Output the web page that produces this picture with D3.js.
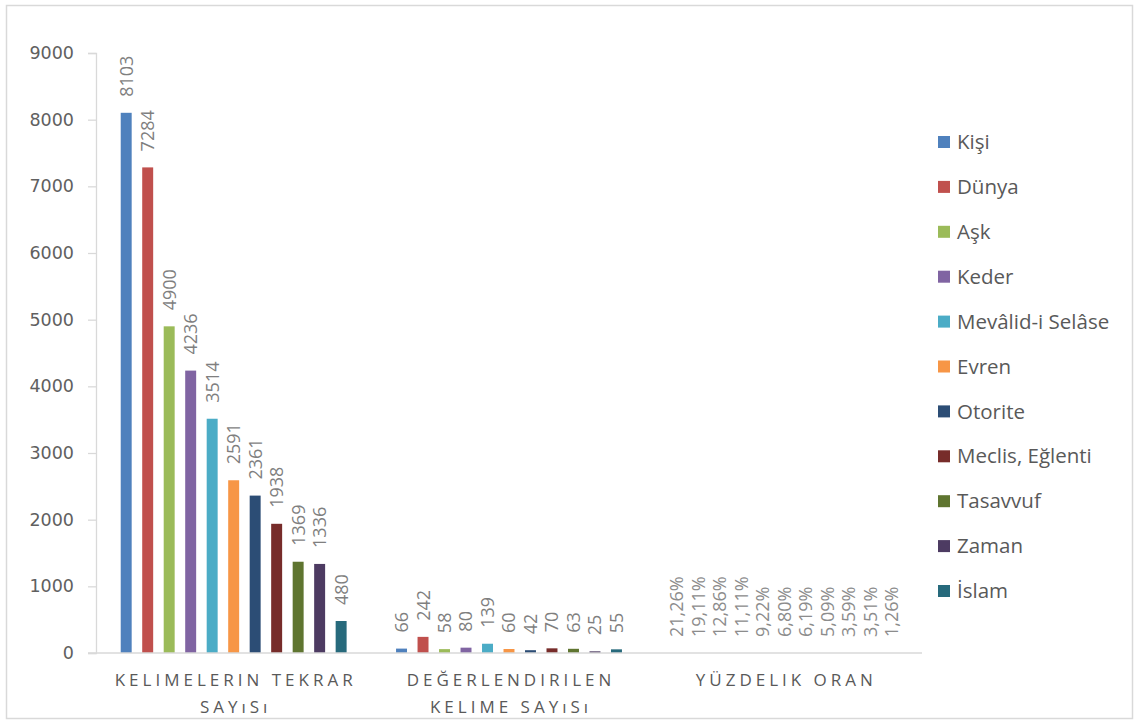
<!DOCTYPE html>
<html>
<head>
<meta charset="utf-8">
<script src="https://cdn.jsdelivr.net/npm/d3@7"></script>
<style>
  html, body { margin: 0; padding: 0; background: #fff; }
  svg { display: block; }
</style>
</head>
<body>
<svg id="chart" width="1136" height="726"></svg>
<script>
const groups = ["g1", "g2", "g3"];
const groupLabels = [
  ["KELIMELERIN TEKRAR", "SAYıSı"],
  ["DEĞERLENDIRILEN", "KELIME SAYıSı"],
  ["YÜZDELIK ORAN"]
];
const series = ["Kişi", "Dünya", "Aşk", "Keder", "Mevâlid-i Selâse", "Evren", "Otorite", "Meclis, Eğlenti", "Tasavvuf", "Zaman", "İslam"];
const colors = ["#4F81BD", "#C0504D", "#9BBB59", "#8064A2", "#4BACC6", "#F79646", "#2C4D75", "#772C2A", "#5F7530", "#4D3B62", "#276A7C"];
const tekrar = [8103, 7284, 4900, 4236, 3514, 2591, 2361, 1938, 1369, 1336, 480];
const degerlendirilen = [66, 242, 58, 80, 139, 60, 42, 70, 63, 25, 55];
const yuzdelik = [21.26, 19.11, 12.86, 11.11, 9.22, 6.80, 6.19, 5.09, 3.59, 3.51, 1.26];
const yTicks = [0, 1000, 2000, 3000, 4000, 5000, 6000, 7000, 8000, 9000];

const svg = d3.select("#chart");
const pLeft = 96, pRight = 922, pTop = 53, pBottom = 653;

// border
svg.append("rect").attr("x", 6.5).attr("y", 5.5).attr("width", 1126).attr("height", 713)
  .attr("fill", "#fff").attr("stroke", "#d9d9d9").attr("stroke-width", 1.5);

const y = d3.scaleLinear().domain([0, 9000]).range([pBottom, pTop]);
const x0 = d3.scaleBand().domain(groups).range([pLeft, pRight]).paddingInner(0).paddingOuter(0);
const x1 = d3.scaleBand().domain(series).range([0, x0.bandwidth()]).paddingInner(0.49).paddingOuter(1.15);

// y axis
const yAxis = d3.axisLeft(y).tickValues(yTicks).tickSize(8).tickPadding(14).tickFormat(d3.format("d"));
const gy = svg.append("g").attr("transform", `translate(${pLeft},0)`).call(yAxis);
gy.select(".domain").attr("stroke", "#d9d9d9").attr("stroke-width", 1.3);
gy.selectAll(".tick line").attr("stroke", "#d9d9d9").attr("stroke-width", 1.3);
gy.selectAll(".tick text").attr("fill", "#606060").attr("font-family", "DejaVu Sans").attr("font-size", 17.5);

// data
const data = [tekrar, degerlendirilen, yuzdelik];
const fmtPct = v => v.toFixed(2).replace(".", ",") + "%";
const fmt = [d => String(d), d => String(d), fmtPct];

data.forEach((vals, gi) => {
  const g = svg.append("g").attr("transform", `translate(${x0(groups[gi])},0)`);
  g.selectAll("rect").data(vals).join("rect")
    .attr("x", (d, i) => x1(series[i]))
    .attr("width", x1.bandwidth())
    .attr("y", d => y(gi === 2 ? d / 100 : d))
    .attr("height", d => pBottom - y(gi === 2 ? d / 100 : d))
    .attr("fill", (d, i) => colors[i]);
  g.selectAll("text").data(vals).join("text")
    .attr("transform", (d, i) => `translate(${x1(series[i]) + x1.bandwidth() / 2},${y(gi === 2 ? d / 100 : d) - 16}) rotate(-90)`)
    .attr("dy", "0.36em")
    .attr("text-anchor", "start")
    .attr("fill", gi === 2 ? "#8c8c8c" : "#7f7f7f")
    .attr("font-family", "Open Sans")
    .attr("font-size", 18)
    .text(fmt[gi]);
});

// x axis line
svg.append("line").attr("x1", 88).attr("x2", pRight).attr("y1", pBottom).attr("y2", pBottom)
  .attr("stroke", "#d9d9d9").attr("stroke-width", 1.3);

// x category labels
groupLabels.forEach((lines, gi) => {
  const cx = x0(groups[gi]) + x0.bandwidth() / 2;
  lines.forEach((t, li) => {
    svg.append("text").attr("x", cx + 2).attr("y", 686 + li * 27)
      .attr("text-anchor", "middle")
      .attr("fill", "#595959")
      .attr("font-family", "Open Sans")
      .attr("font-size", 17)
      .attr("letter-spacing", 4)
      .text(t);
  });
});

// legend
const lg = svg.append("g");
series.forEach((s, i) => {
  const ly = 142 + i * 44.9;
  lg.append("rect").attr("x", 938).attr("y", ly - 6).attr("width", 12).attr("height", 12).attr("fill", colors[i]);
  lg.append("text").attr("x", 957).attr("y", ly).attr("dy", "0.35em")
    .attr("fill", "#595959").attr("font-family", "Open Sans").attr("font-size", 20.5)
    .text(s);
});
</script>
</body>
</html>
